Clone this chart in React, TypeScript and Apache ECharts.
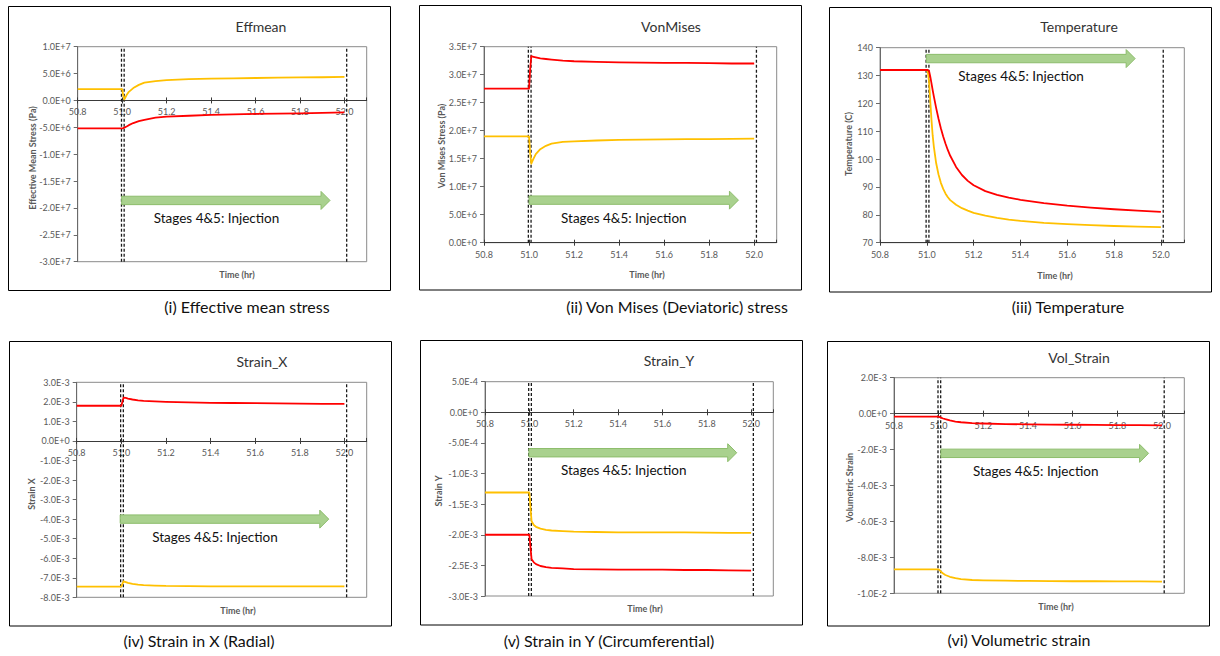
import React, { useEffect, useRef } from "react";
import * as echarts from "echarts";

// ---------- data ----------
const timeHr = [50.8, 50.9, 51.0, 51.005, 51.01, 51.02, 51.03, 51.05, 51.075, 51.1, 51.15, 51.2, 51.3, 51.4, 51.5, 51.6, 51.7, 51.8, 51.9, 52.0];
const timeHrTemperature = [50.8, 50.9, 51.0, 51.005, 51.01, 51.015, 51.02, 51.025, 51.03, 51.04, 51.05, 51.06, 51.07, 51.08, 51.09, 51.1, 51.125, 51.15, 51.175, 51.2, 51.25, 51.3, 51.35, 51.4, 51.5, 51.6, 51.7, 51.8, 51.9, 52.0];

const effmeanRed = [-5.2e6, -5.2e6, -5.2e6, -5.15e6, -5.05e6, -4.85e6, -4.6e6, -4.2e6, -3.85e6, -3.6e6, -3.2e6, -3.0e6, -2.85e6, -2.7e6, -2.6e6, -2.5e6, -2.45e6, -2.4e6, -2.3e6, -2.2e6];
const effmeanYellow = [2.1e6, 2.1e6, 2.1e6, 0.9e6, 0.2e6, 1.0e6, 1.6e6, 2.3e6, 2.9e6, 3.3e6, 3.6e6, 3.8e6, 3.95e6, 4.05e6, 4.12e6, 4.18e6, 4.24e6, 4.28e6, 4.32e6, 4.37e6];

const vonMisesRed = [2.75e7, 2.75e7, 2.75e7, 3.1e7, 3.33e7, 3.32e7, 3.31e7, 3.29e7, 3.28e7, 3.27e7, 3.25e7, 3.24e7, 3.23e7, 3.22e7, 3.215e7, 3.21e7, 3.21e7, 3.205e7, 3.2e7, 3.2e7];
const vonMisesYellow = [1.9e7, 1.9e7, 1.9e7, 1.6e7, 1.41e7, 1.5e7, 1.58e7, 1.67e7, 1.73e7, 1.77e7, 1.8e7, 1.81e7, 1.825e7, 1.835e7, 1.84e7, 1.845e7, 1.85e7, 1.85e7, 1.855e7, 1.86e7];

const temperatureRed = [132, 132, 132, 132, 131.5, 129.5, 127.2, 124.8, 122.5, 118.3, 114.5, 111.1, 108.1, 105.5, 103.2, 101.2, 97.2, 94.3, 92.2, 90.6, 88.5, 87.2, 86.2, 85.4, 84.2, 83.3, 82.6, 82.0, 81.5, 81.1];
const temperatureYellow = [132, 132, 132, 131, 127.5, 120.5, 114, 108.5, 104.5, 98.5, 94.5, 91.5, 89.3, 87.6, 86.3, 85.3, 83.6, 82.4, 81.5, 80.7, 79.7, 78.9, 78.3, 77.8, 77.1, 76.7, 76.3, 76.0, 75.8, 75.6];

const strainXRed = [1.8e-3, 1.8e-3, 1.8e-3, 2.0e-3, 2.22e-3, 2.2e-3, 2.17e-3, 2.12e-3, 2.08e-3, 2.05e-3, 2.02e-3, 2.0e-3, 1.97e-3, 1.95e-3, 1.94e-3, 1.93e-3, 1.92e-3, 1.91e-3, 1.9e-3, 1.9e-3];
const strainXYellow = [-7.45e-3, -7.45e-3, -7.45e-3, -7.3e-3, -7.18e-3, -7.22e-3, -7.26e-3, -7.31e-3, -7.35e-3, -7.38e-3, -7.4e-3, -7.42e-3, -7.43e-3, -7.44e-3, -7.44e-3, -7.44e-3, -7.44e-3, -7.44e-3, -7.44e-3, -7.44e-3];

const strainYRed = [-2.0e-3, -2.0e-3, -2.0e-3, -2.2e-3, -2.4e-3, -2.45e-3, -2.48e-3, -2.51e-3, -2.53e-3, -2.54e-3, -2.55e-3, -2.56e-3, -2.565e-3, -2.57e-3, -2.57e-3, -2.57e-3, -2.575e-3, -2.575e-3, -2.58e-3, -2.585e-3];
const strainYYellow = [-1.31e-3, -1.31e-3, -1.31e-3, -1.55e-3, -1.78e-3, -1.84e-3, -1.87e-3, -1.9e-3, -1.92e-3, -1.93e-3, -1.94e-3, -1.95e-3, -1.955e-3, -1.96e-3, -1.96e-3, -1.96e-3, -1.96e-3, -1.965e-3, -1.97e-3, -1.97e-3];

const volStrainRed = [-0.17e-3, -0.17e-3, -0.17e-3, -0.19e-3, -0.22e-3, -0.27e-3, -0.31e-3, -0.38e-3, -0.44e-3, -0.48e-3, -0.53e-3, -0.55e-3, -0.58e-3, -0.6e-3, -0.61e-3, -0.62e-3, -0.63e-3, -0.635e-3, -0.64e-3, -0.65e-3];
const volStrainYellow = [-8.67e-3, -8.67e-3, -8.67e-3, -8.72e-3, -8.8e-3, -8.9e-3, -8.98e-3, -9.08e-3, -9.16e-3, -9.21e-3, -9.26e-3, -9.28e-3, -9.3e-3, -9.31e-3, -9.32e-3, -9.33e-3, -9.33e-3, -9.34e-3, -9.34e-3, -9.35e-3];

const panelTimes = [timeHr, timeHr, timeHrTemperature, timeHr, timeHr, timeHr];
const redSeries = [effmeanRed, vonMisesRed, temperatureRed, strainXRed, strainYRed, volStrainRed];
const yellowSeries = [effmeanYellow, vonMisesYellow, temperatureYellow, strainXYellow, strainYYellow, volStrainYellow];

const panelTitles = ["Effmean", "VonMises", "Temperature", "Strain_X", "Strain_Y", "Vol_Strain"];
const panelCaptions = [
  "(i) Effective mean stress",
  "(ii) Von Mises (Deviatoric) stress",
  "(iii) Temperature",
  "(iv) Strain in X (Radial)",
  "(v) Strain in Y (Circumferential)",
  "(vi) Volumetric strain",
];
const yAxisNames = ["Effective Mean Stress (Pa)", "Von Mises Stress (Pa)", "Temperature (C)", "Strain X", "Strain Y", "Volumetric Strain"];
const xAxisName = "Time (hr)";
const annotationText = "Stages 4&5: Injection";

const yMins = [-3e7, 0, 70, -8e-3, -3e-3, -1e-2];
const yMaxs = [1e7, 3.5e7, 140, 3e-3, 5e-4, 2e-3];
const yIntervals = [5e6, 5e6, 10, 1e-3, 5e-4, 2e-3];
const yScientific = [true, true, false, true, true, true];

const xMin = 50.8;
const xMax = 52.1;
const xInterval = 0.2;

const markerTimes = [50.997, 51.009, 52.01];
const arrowStarts = [50.998, 51.0, 50.998, 50.995, 50.998, 51.01];
const arrowEnds = [51.935, 51.93, 51.89, 51.93, 51.935, 51.94];
const arrowLevels = [-1.86e7, 7.6e6, 136.1, -4.0e-3, -6.6e-4, -2.21e-3];

// ---------- layout (pixels) ----------
const layout = [
  { box: [8.5, 6.5, 382, 284], grid: [77.7, 46.7, 289, 215], title: [261, 26], caption: [247, 306], time: [237, 274], yName: [32, 158] },
  { box: [419.5, 5.5, 382, 284.5], grid: [484, 46.7, 292.7, 196], title: [671, 26], caption: [677, 306], time: [647, 274], yName: [441.5, 146] },
  { box: [829.5, 7.5, 382, 284.5], grid: [880, 47.7, 304.3, 195], title: [1079, 26], caption: [1068, 306], time: [1055, 275], yName: [848, 144] },
  { box: [9.5, 341.5, 382, 284.5], grid: [76.7, 382.3, 290, 215], title: [262, 361.5], caption: [199, 640], time: [238, 610], yName: [31, 494] },
  { box: [420.5, 340.5, 382, 284.5], grid: [485, 381.7, 288.3, 214.3], title: [669, 360], caption: [609, 640], time: [645, 608], yName: [438, 491] },
  { box: [827.5, 341.5, 382, 284.5], grid: [894, 377.7, 290.3, 215.6], title: [1079, 357], caption: [1019, 639], time: [1056, 606], yName: [849, 487.5] },
];

const FONT = "Lato, 'Open Sans', sans-serif";

function arrowRender(params: any, api: any) {
  const s = api.coord([api.value(0), api.value(2)]);
  const e = api.coord([api.value(1), api.value(2)]);
  const x0 = s[0];
  const x1 = e[0];
  const y = s[1];
  const bh = 4.2;
  const hh = 9;
  const hl = 9;
  return {
    type: "group",
    children: [
      {
        type: "polygon",
        shape: {
          points: [
            [x0, y - bh],
            [x1 - hl, y - bh],
            [x1 - hl, y - hh],
            [x1, y],
            [x1 - hl, y + hh],
            [x1 - hl, y + bh],
            [x0, y + bh],
          ],
        },
        style: { fill: "#a9d18e", stroke: "#8dbd6c", lineWidth: 1 },
      },
      {
        type: "text",
        x: x0 + 32,
        y: y + 17.5,
        style: {
          text: annotationText,
          fill: "#111",
          font: `13.5px ${FONT}`,
          textAlign: "left",
          align: "left",
          textVerticalAlign: "middle",
          verticalAlign: "middle",
        },
      },
    ],
  };
}

function buildOption() {
  const grids: any[] = [];
  const xAxes: any[] = [];
  const xAxesInner: any[] = [];
  const yAxes: any[] = [];
  const series: any[] = [];
  const graphics: any[] = [];

  for (let i = 0; i < 6; i++) {
    const L = layout[i];
    grids.push({
      left: L.grid[0],
      top: L.grid[1],
      width: L.grid[2],
      height: L.grid[3],
      show: true,
      borderColor: "#8a8a8a",
      borderWidth: 1,
      containLabel: false,
    });
    // place the x axis line on y = 0 when zero is inside the range
    const zeroInside = yMins[i] < 0 && yMaxs[i] > 0;
    const zeroOffset = zeroInside ? -L.grid[3] * ((0 - yMins[i]) / (yMaxs[i] - yMins[i])) : 0;
    xAxes.push({
      type: "value",
      gridIndex: i,
      position: "bottom",
      offset: zeroOffset,
      min: xMin,
      max: xMax,
      interval: xInterval,
      axisLine: { show: true, onZero: false, lineStyle: { color: "#3a3a3a", width: 1 } },
      axisTick: { show: true, length: 3, lineStyle: { color: "#3a3a3a" } },
      axisLabel: {
        color: "#595959",
        fontSize: 9,
        fontFamily: FONT,
        margin: 7,
        showMaxLabel: false,
        formatter: (v: number) => (Math.abs(v - xMax) < 1e-6 ? "" : v.toFixed(1)),
      },
      splitLine: { show: false },
    });
    // companion axis: inner half of the crossing tick marks
    xAxesInner.push({
      type: "value",
      gridIndex: i,
      position: "bottom",
      offset: zeroOffset,
      min: xMin,
      max: xMax,
      interval: xInterval,
      axisLine: { show: false, onZero: false },
      axisTick: { show: true, inside: true, length: 3, lineStyle: { color: "#3a3a3a" } },
      axisLabel: { show: false },
      splitLine: { show: false },
    });
    const sci = yScientific[i];
    yAxes.push({
      type: "value",
      gridIndex: i,
      min: yMins[i],
      max: yMaxs[i],
      interval: yIntervals[i],
      axisLine: { show: true, onZero: false, lineStyle: { color: "#6a6a6a", width: 1 } },
      axisTick: { show: true, length: 4, lineStyle: { color: "#6a6a6a" } },
      axisLabel: {
        color: "#595959",
        fontSize: 9,
        fontFamily: FONT,
        margin: 7,
        formatter: (v: number) => (sci ? v.toExponential(1).toUpperCase() : String(Math.round(v))),
      },
      splitLine: { show: false },
    });

    // dashed stage markers
    markerTimes.forEach((t) => {
      series.push({
        type: "line",
        xAxisIndex: i,
        yAxisIndex: i,
        data: [
          [t, yMins[i]],
          [t, yMaxs[i]],
        ],
        symbol: "none",
        silent: true,
        lineStyle: { color: "#1a1a1a", width: 1.3, type: [3, 2] },
        z: 2,
      });
    });

    const times = panelTimes[i];
    series.push({
      type: "line",
      xAxisIndex: i,
      yAxisIndex: i,
      data: times.map((t, k) => [t, yellowSeries[i][k]]),
      symbol: "none",
      lineStyle: { color: "#ffc000", width: 1.8, join: "round" },
      z: 3,
    });
    series.push({
      type: "line",
      xAxisIndex: i,
      yAxisIndex: i,
      data: times.map((t, k) => [t, redSeries[i][k]]),
      symbol: "none",
      lineStyle: { color: "#ff0000", width: 1.8, join: "round" },
      z: 3,
    });
    series.push({
      type: "custom",
      xAxisIndex: i,
      yAxisIndex: i,
      data: [[arrowStarts[i], arrowEnds[i], arrowLevels[i]]],
      encode: { x: [0, 1], y: 2 },
      renderItem: arrowRender,
      clip: false,
      silent: true,
      z: 4,
    });

    graphics.push({
      type: "rect",
      shape: { x: L.box[0], y: L.box[1], width: L.box[2], height: L.box[3] },
      style: { fill: "none", stroke: "#000", lineWidth: 1 },
      silent: true,
      z: -1,
    });
    graphics.push({
      type: "text",
      x: L.title[0],
      y: L.title[1],
      style: { text: panelTitles[i], font: `14px ${FONT}`, fill: "#333", textAlign: "center", textVerticalAlign: "middle" },
    });
    graphics.push({
      type: "text",
      x: L.caption[0],
      y: L.caption[1],
      style: { text: panelCaptions[i], font: `16px ${FONT}`, fill: "#111", textAlign: "center", textVerticalAlign: "middle" },
    });
    graphics.push({
      type: "text",
      x: L.time[0],
      y: L.time[1],
      style: { text: xAxisName, font: `bold 9px ${FONT}`, fill: "#595959", textAlign: "center", textVerticalAlign: "middle" },
    });
    graphics.push({
      type: "text",
      x: L.yName[0],
      y: L.yName[1],
      rotation: Math.PI / 2,
      style: { text: yAxisNames[i], font: `bold 9px ${FONT}`, fill: "#595959", textAlign: "center", textVerticalAlign: "middle" },
    });
  }

  return {
    animation: false,
    backgroundColor: "#ffffff",
    textStyle: { fontFamily: FONT },
    grid: grids,
    xAxis: [...xAxes, ...xAxesInner],
    yAxis: yAxes,
    series,
    graphic: graphics,
  };
}

export default function App() {
  const ref = useRef<HTMLDivElement>(null);
  useEffect(() => {
    if (!ref.current) return;
    const chart = echarts.init(ref.current, undefined, { renderer: "svg" });
    chart.setOption(buildOption() as any);
    return () => chart.dispose();
  }, []);
  return (
    <div
      ref={ref}
      style={{ position: "fixed", left: 0, top: 0, width: 1220, height: 656, background: "#fff" }}
    />
  );
}
